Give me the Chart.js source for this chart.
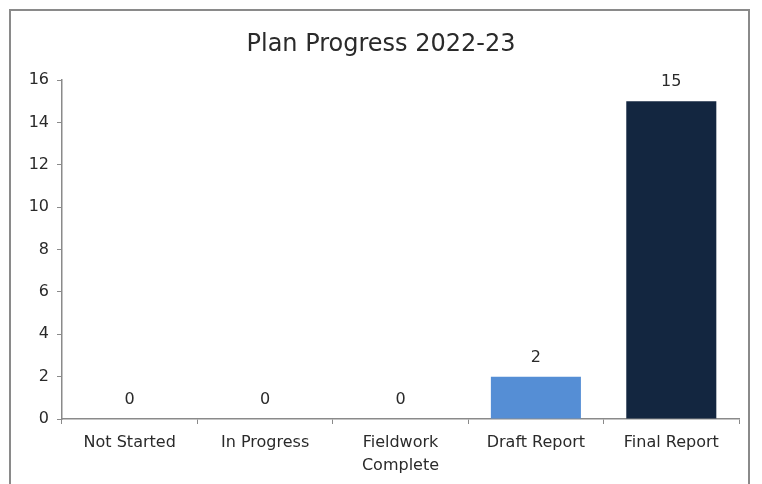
<!DOCTYPE html>
<html>
<head>
<meta charset="utf-8">
<script src="https://cdn.jsdelivr.net/npm/chart.js@4/dist/chart.umd.min.js"></script>
<style>
  html, body { margin: 0; padding: 0; background: #fff; }
  #wrap { position: relative; width: 762px; height: 484px; overflow: hidden; }
  #frame { position: absolute; left: 9px; top: 9px; width: 741px; height: 490px;
           border: 2px solid #8a8a8a; box-sizing: border-box; }
  #c { position: absolute; left: 0; top: 0; }
</style>
</head>
<body>
<div id="wrap">
  <div id="frame"></div>
  <canvas id="c" width="762" height="484"></canvas>
</div>
<script>
const categories = [["Not Started"], ["In Progress"], ["Fieldwork", "Complete"], ["Draft Report"], ["Final Report"]];
const counts = [0, 0, 0, 2, 15];
const barColors = ["#558ed5", "#558ed5", "#558ed5", "#558ed5", "#132640"];
const yTicks = [0, 2, 4, 6, 8, 10, 12, 14, 16];

const FONT = "'DejaVu Sans', sans-serif";
const TEXT = "#2a2a2a";

// Writes each bar's count just above its top edge
const valueLabels = {
  id: 'valueLabels',
  afterDatasetsDraw(chart) {
    const ctx = chart.ctx;
    const meta = chart.getDatasetMeta(0);
    ctx.save();
    ctx.font = "16px " + FONT;
    ctx.fillStyle = TEXT;
    ctx.textAlign = 'center';
    ctx.textBaseline = 'middle';
    meta.data.forEach((bar, i) => {
      ctx.fillText(String(counts[i]), bar.x, bar.y - 19);
    });
    ctx.restore();
  }
};

new Chart(document.getElementById('c'), {
  type: 'bar',
  data: {
    labels: categories,
    datasets: [{
      data: counts,
      backgroundColor: barColors,
      borderWidth: 0,
      categoryPercentage: 1,
      barPercentage: 0.665
    }]
  },
  options: {
    responsive: false,
    animation: false,
    events: [],
    layout: { padding: { left: 23, right: 23, top: 0, bottom: 0 } },
    plugins: {
      legend: { display: false },
      tooltip: { enabled: false },
      title: {
        display: true,
        text: 'Plan Progress 2022-23',
        color: TEXT,
        font: { family: FONT, size: 24, weight: 'normal', lineHeight: 1.2 },
        padding: { top: 30, bottom: 21.2 }
      }
    },
    scales: {
      x: {
        offset: true,
        grid: { display: true, drawOnChartArea: false, drawTicks: true, tickLength: 5, color: '#8a8a8a', offset: true },
        border: { display: true, color: '#8a8a8a', width: 1.5 },
        ticks: { color: TEXT, font: { family: FONT, size: 16, lineHeight: 1.4 }, padding: 8, maxRotation: 0, autoSkip: false },
        afterFit(scale) { scale.height = 65; }
      },
      y: {
        min: 0,
        max: 16,
        afterBuildTicks(scale) { scale.ticks = yTicks.map(v => ({ value: v })); },
        grid: { display: true, drawOnChartArea: false, drawTicks: true, tickLength: 5, color: '#8a8a8a' },
        border: { display: true, color: '#8a8a8a', width: 1.5 },
        ticks: { color: TEXT, font: { family: FONT, size: 16 }, padding: 8 },
        afterFit(scale) { scale.width = 39; }
      }
    }
  },
  plugins: [valueLabels]
});
</script>
</body>
</html>
